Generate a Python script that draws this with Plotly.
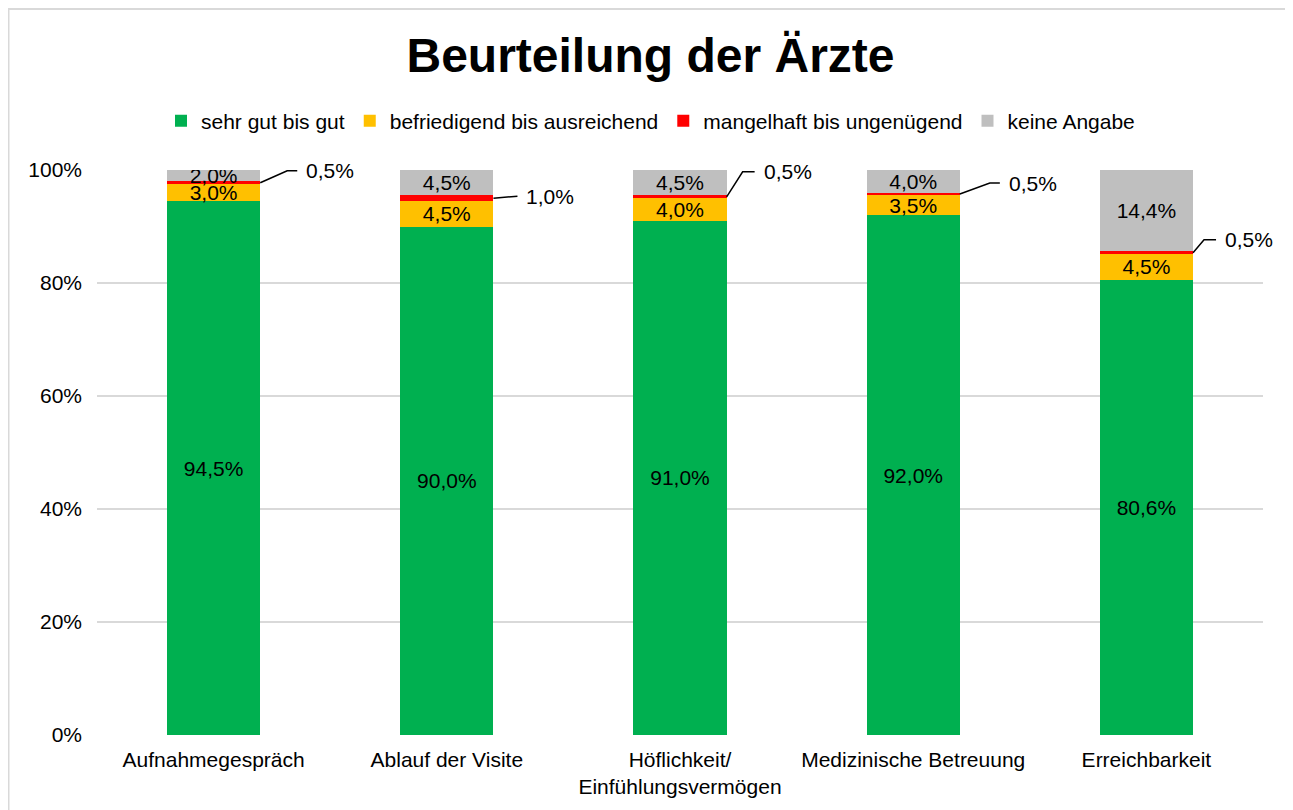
import plotly.graph_objects as go

categories = ["Aufnahmegespräch", "Ablauf der Visite", "Höflichkeit/<br>Einfühlungsvermögen",
              "Medizinische Betreuung", "Erreichbarkeit"]
sehr_gut = [94.5, 90.0, 91.0, 92.0, 80.6]
befriedigend = [3.0, 4.5, 4.0, 3.5, 4.5]
mangelhaft = [0.5, 1.0, 0.5, 0.5, 0.5]
keine_angabe = [2.0, 4.5, 4.5, 4.0, 14.4]
y_ticks = [0, 20, 40, 60, 80, 100]
y_tick_labels = ["0%", "20%", "40%", "60%", "80%", "100%"]

series = [
    ("sehr gut bis gut", sehr_gut, "#00B050"),
    ("befriedigend bis ausreichend", befriedigend, "#FFC000"),
    ("mangelhaft bis ungenügend", mangelhaft, "#FF0000"),
    ("keine Angabe", keine_angabe, "#BFBFBF"),
]

FONT = "Liberation Sans, Arial, sans-serif"
FS = 21
W, H = 1285, 802

fig = go.Figure()
x_idx = list(range(len(categories)))
for name, vals, col in series:
    inside = name != "mangelhaft bis ungenügend"
    fig.add_trace(go.Bar(
        x=x_idx, y=vals, name=name, marker=dict(color=col, line=dict(width=0)),
        texttemplate="%{y:.1f}%" if inside else None,
        textposition="inside" if inside else "none",
        insidetextanchor="middle", textangle=0,
        textfont=dict(family=FONT, size=FS, color="black"),
        hoverinfo="skip",
    ))

# leader lines for the thin red segment (pixel offsets: path, text)
leaders = [
    ([(0, 0), (27, 12), (37, 12)], (44, 12)),
    ([(0, 0), (24, 2)], (31, 2)),
    ([(0, 0), (16, 25), (28, 25)], (35, 25)),
    ([(0, 0), (30, 11), (40, 11)], (47, 11)),
    ([(0, 0), (11, 13), (23, 13)], (30, 13)),
]
for i, (pts, (tx, ty)) in enumerate(leaders):
    ymid = sehr_gut[i] + befriedigend[i] + mangelhaft[i] / 2
    path = "M" + " L".join(f"{px},{py}" for px, py in pts)
    fig.add_shape(type="path", path=path, xref="x", yref="y",
                  xsizemode="pixel", ysizemode="pixel",
                  xanchor=i + 0.2, yanchor=ymid,
                  line=dict(color="black", width=1.5))
    fig.add_annotation(x=i + 0.2, y=ymid, xref="x", yref="y",
                       text=f"{mangelhaft[i]:.1f}%".replace(".", ","),
                       showarrow=False, xanchor="left", yanchor="middle",
                       xshift=tx, yshift=ty,
                       font=dict(family=FONT, size=FS, color="black"))

# outer chart border (bottom edge lies outside the visible area)
fig.add_shape(type="rect", xref="paper", yref="paper",
              x0=-0.0759, x1=1.024, y0=-0.2, y1=1.285,
              line=dict(color="#D9D9D9", width=2), layer="below")

fig.update_layout(
    barmode="stack", bargap=0.6,
    width=W, height=H,
    margin=dict(l=89, r=30, t=162, b=75),
    paper_bgcolor="white", plot_bgcolor="white",
    separators=",.",
    font=dict(family=FONT, size=FS, color="black"),
    title=dict(text="<b>Beurteilung der Ärzte</b>", x=0.5, xref="container",
               xanchor="center", y=1 - 47 / H, yanchor="middle",
               font=dict(family=FONT, size=48, color="black")),
    legend=dict(orientation="h", xref="container", x=0.5, xanchor="center",
                yref="container", y=1 - 113 / H, yanchor="middle",
                font=dict(family=FONT, size=FS, color="black"),
                traceorder="normal"),
    uniformtext=dict(minsize=FS, mode="show"),
    showlegend=True,
)
fig.update_xaxes(tickmode="array", tickvals=x_idx, ticktext=categories,
                 range=[-0.5, len(categories) - 0.5], showgrid=False,
                 showline=False, zeroline=False, ticks="", ticklabelstandoff=10,
                 tickfont=dict(family=FONT, size=FS, color="black"))
fig.update_yaxes(range=[0, 100], tickmode="array", tickvals=y_ticks,
                 ticktext=y_tick_labels,
                 showgrid=True, gridcolor="#D9D9D9", gridwidth=1.5,
                 zeroline=False, showline=False, ticks="", ticklabelstandoff=14,
                 tickfont=dict(family=FONT, size=FS, color="black"))

fig.write_html("out.html")
